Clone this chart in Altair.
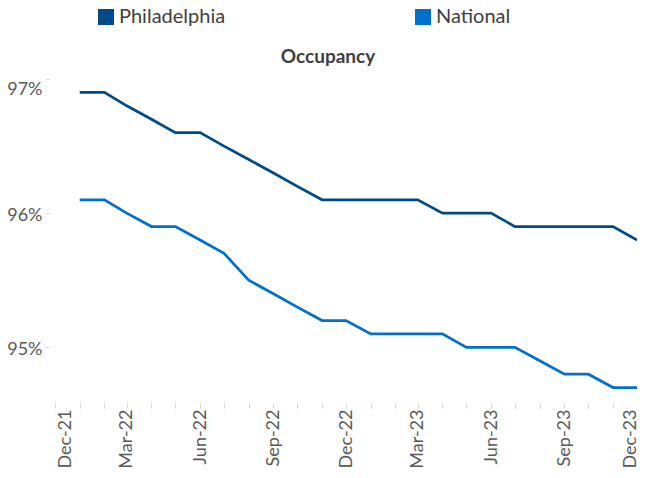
import altair as alt
import pandas as pd

months = [
    "2022-01-01", "2022-02-01", "2022-03-01", "2022-04-01", "2022-05-01", "2022-06-01",
    "2022-07-01", "2022-08-01", "2022-09-01", "2022-10-01", "2022-11-01", "2022-12-01",
    "2023-01-01", "2023-02-01", "2023-03-01", "2023-04-01", "2023-05-01", "2023-06-01",
    "2023-07-01", "2023-08-01", "2023-09-01", "2023-10-01", "2023-11-01", "2023-12-01",
]
philadelphia = [96.9, 96.9, 96.8, 96.7, 96.6, 96.6, 96.5, 96.4, 96.3, 96.2, 96.1, 96.1,
                96.1, 96.1, 96.1, 96.0, 96.0, 96.0, 95.9, 95.9, 95.9, 95.9, 95.9, 95.8]
national = [96.1, 96.1, 96.0, 95.9, 95.9, 95.8, 95.7, 95.5, 95.4, 95.3, 95.2, 95.2,
            95.1, 95.1, 95.1, 95.1, 95.0, 95.0, 95.0, 94.9, 94.8, 94.8, 94.7, 94.7]
series = ["Philadelphia", "National"]
colors = ["#004B87", "#0070CD"]
y_ticks = [95, 96, 97]

rows = []
for name, vals in zip(series, [philadelphia, national]):
    for m, v in zip(months, vals):
        rows.append({"month": m, "series": name, "value": v})
df = pd.DataFrame(rows)

tick_dates = [alt.DateTime(year=2021, month=12, date=1, utc=True)] + [
    alt.DateTime(year=int(m[:4]), month=int(m[5:7]), date=1, utc=True) for m in months
]

font = "Lato"

x_label_offset = {
    "condition": [
        {"test": "utcyear(datum.value) == 2021", "value": 10},
        {"test": "utcyear(datum.value) == 2023 && utcmonth(datum.value) == 11", "value": -7},
    ],
    "value": 0,
}

chart = alt.Chart(df).mark_line(strokeWidth=2.75).encode(
    x=alt.X(
        "month:T",
        scale=alt.Scale(
            type="utc",
            domain=[alt.DateTime(year=2021, month=12, date=1, utc=True),
                    alt.DateTime(year=2023, month=12, date=1, utc=True)],
            nice=False,
        ),
        axis=alt.Axis(
            title=None,
            values=tick_dates,
            labelExpr="utcmonth(datum.value) % 3 == 2 ? utcFormat(datum.value, '%b-%y') : ''",
            labelAngle=-90,
            labelFont=font,
            labelFontSize=18,
            labelColor="#595959",
            labelOverlap=False,
            labelFlush=False,
            labelPadding=1,
            labelOffset=x_label_offset,
            grid=False,
            domain=False,
            tickColor="#d9d9d9",
            tickSize=5,
            offset=2,
        ),
    ),
    y=alt.Y(
        "value:Q",
        scale=alt.Scale(domain=[94.6, 97.0], nice=False, zero=False),
        axis=alt.Axis(
            title=None,
            values=y_ticks,
            labelExpr="datum.value + '%'",
            labelFont=font,
            labelFontSize=18,
            labelColor="#595959",
            labelPadding=3,
            labelOffset={"condition": {"test": "datum.value == 97", "value": 10}, "value": 2},
            grid=False,
            domain=False,
            tickColor="#d9d9d9",
            tickSize=5,
            offset=5,
        ),
    ),
    color=alt.Color(
        "series:N",
        scale=alt.Scale(domain=series, range=colors),
        legend=alt.Legend(
            title=None,
            orient="none",
            legendX=41,
            legendY=-72,
            direction="horizontal",
            symbolType="square",
            symbolSize=64,
            symbolStrokeWidth=8,
            symbolOpacity=1,
            labelFont=font,
            labelFontSize=20,
            labelColor="#404040",
            labelOffset=3,
            columnPadding=177,
        ),
    ),
).properties(
    width=582,
    height=322,
    padding={"left": 47, "top": 71, "right": 0, "bottom": 68},
    autosize=alt.AutoSizeParams(type="none"),
    background="white",
    title=alt.TitleParams(
        "Occupancy",
        font=font,
        fontSize=19,
        fontWeight="bold",
        color="#404040",
        anchor="middle",
        offset=-60,
        dx=-18,
    ),
).configure_view(stroke=None)

chart.save("out.html", embed_options={"renderer": "svg", "actions": False})
